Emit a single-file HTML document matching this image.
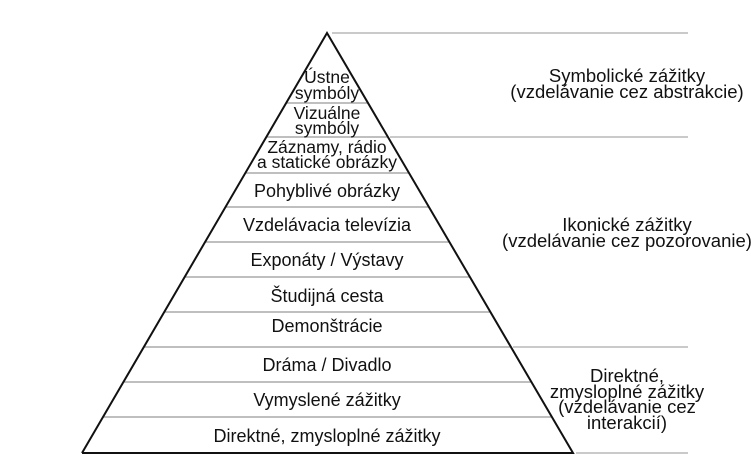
<!DOCTYPE html>
<html><head><meta charset="utf-8"><style>
html,body{margin:0;padding:0;background:#fff;}
svg{display:block;}
text{font-family:"Liberation Sans",Arial,sans-serif;font-size:18px;fill:#111;}
.r{font-size:18.5px;}
.s{font-size:17.5px;}
</style></head><body>
<svg width="751" height="466" viewBox="0 0 751 466">
<g stroke="#aaa" stroke-width="1.3">
<line x1="332" y1="33" x2="688" y2="33"/>
<line x1="390" y1="137" x2="688" y2="137"/>
<line x1="513" y1="347" x2="688" y2="347"/>
<line x1="576" y1="453" x2="688" y2="453"/>
</g>
<g stroke="#999" stroke-width="1.3">
<line x1="286" y1="103" x2="368" y2="103"/>
<line x1="266" y1="137" x2="388" y2="137"/>
<line x1="245" y1="173" x2="409" y2="173"/>
<line x1="226" y1="207" x2="429" y2="207"/>
<line x1="205" y1="242" x2="449" y2="242"/>
<line x1="185" y1="277" x2="470" y2="277"/>
<line x1="164" y1="312" x2="490" y2="312"/>
<line x1="144" y1="347" x2="510" y2="347"/>
<line x1="123" y1="382" x2="531" y2="382"/>
<line x1="103" y1="417" x2="551" y2="417"/>
</g>
<polyline points="82,453 327,33 573,453 82,453" fill="none" stroke="#111" stroke-width="2"/>
<g text-anchor="middle">
<text class="s" x="327" y="83">Ústne</text>
<text class="s" x="327" y="99">symbóly</text>
<text class="s" x="327" y="119">Vizuálne</text>
<text class="s" x="327" y="134">symbóly</text>
<text class="s" x="327" y="153">Záznamy, rádio</text>
<text class="s" x="327" y="168">a statické obrázky</text>
<text x="327" y="197">Pohyblivé obrázky</text>
<text x="327" y="231">Vzdelávacia televízia</text>
<text x="327" y="266">Exponáty / Výstavy</text>
<text x="327" y="302">Študijná cesta</text>
<text x="327" y="332">Demonštrácie</text>
<text x="327" y="371">Dráma / Divadlo</text>
<text x="327" y="406">Vymyslené zážitky</text>
<text x="327" y="442">Direktné, zmysloplné zážitky</text>
<text class="r" x="627" y="82">Symbolické zážitky</text>
<text class="r" x="627" y="98">(vzdelávanie cez abstrakcie)</text>
<text class="r" x="627" y="231">Ikonické zážitky</text>
<text class="r" x="627" y="247">(vzdelávanie cez pozorovanie)</text>
<text class="r" x="627" y="382">Direktné,</text>
<text class="r" x="627" y="398">zmysloplné zážitky</text>
<text class="r" x="627" y="413">(vzdelávanie cez</text>
<text class="r" x="627" y="429">interakcií)</text>
</g>
</svg>
</body></html>
